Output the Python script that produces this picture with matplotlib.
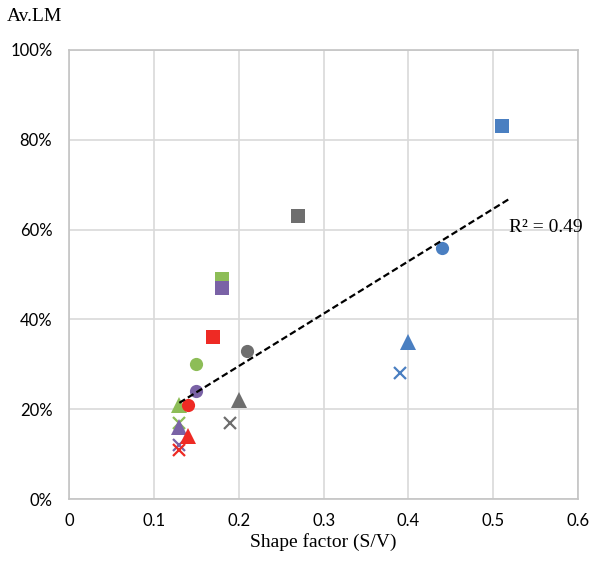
import numpy as np
import matplotlib.pyplot as plt
from matplotlib.ticker import PercentFormatter

# shape factor (S/V) and Av.LM for each group: square, circle, triangle, cross
blue_x = [0.51, 0.44, 0.40, 0.39]
blue_y = [0.83, 0.56, 0.35, 0.28]
gray_x = [0.27, 0.21, 0.20, 0.19]
gray_y = [0.63, 0.33, 0.22, 0.17]
green_x = [0.18, 0.15, 0.13, 0.13]
green_y = [0.49, 0.30, 0.21, 0.17]
purple_x = [0.18, 0.15, 0.13, 0.13]
purple_y = [0.47, 0.24, 0.16, 0.12]
red_x = [0.17, 0.14, 0.14, 0.13]
red_y = [0.36, 0.21, 0.14, 0.11]

groups = [
    (blue_x, blue_y, '#4a7fc1'),
    (gray_x, gray_y, '#6e6e6e'),
    (green_x, green_y, '#8dbd57'),
    (purple_x, purple_y, '#7a62a6'),
    (red_x, red_y, '#ee2a24'),
]
markers = ['s', 'o', '^', 'x']
sizes = [9.5, 9.5, 11.5, 9]

fig = plt.figure(figsize=(5.93, 5.61), dpi=100)
ax = fig.add_axes([0.1164, 0.1105, 0.8586, 0.8005])

for xs, ys, col in groups:
    for x, y, m, s in zip(xs, ys, markers, sizes):
        if m == 'x':
            ax.plot(x, y, m, color=col, markersize=s, markeredgewidth=1.6, zorder=3)
        else:
            ax.plot(x, y, m, color=col, markersize=s, markeredgewidth=0, zorder=3)

# linear trend over all points
all_x = np.concatenate([g[0] for g in groups])
all_y = np.concatenate([g[1] for g in groups])
k, b = np.polyfit(all_x, all_y, 1)
tx = np.array([0.13, 0.52])
ax.plot(tx, k * tx + b, color='black', linestyle=(0, (3, 1.5)), linewidth=1.6, zorder=4)
ax.text(0.518, 0.595, 'R² = 0.49', fontsize=14, family='Liberation Serif')

ax.set_xlim(0, 0.6)
ax.set_ylim(0, 1.0)
ax.set_xticks(np.arange(0, 0.61, 0.1))
ax.set_xticklabels(['0', '0.1', '0.2', '0.3', '0.4', '0.5', '0.6'])
ax.set_yticks(np.arange(0, 1.01, 0.2))
ax.yaxis.set_major_formatter(PercentFormatter(1.0, decimals=0))
ax.grid(True, color='#d9d9d9', linewidth=1.2, zorder=0)
ax.set_axisbelow(True)
for sp in ax.spines.values():
    sp.set_color('#c4c4c4')
    sp.set_linewidth(1.2)
ax.tick_params(length=0, labelsize=12)
ax.tick_params(axis='y', pad=12)
ax.tick_params(axis='x', pad=10)
for lab in ax.get_xticklabels() + ax.get_yticklabels():
    lab.set_family('Lato')

ax.set_xlabel('Shape factor (S/V)', fontsize=14, family='Liberation Serif', labelpad=3)
fig.text(0.012, 0.962, 'Av.LM', fontsize=14, family='Liberation Serif')

fig.savefig('out.png', dpi=100)
